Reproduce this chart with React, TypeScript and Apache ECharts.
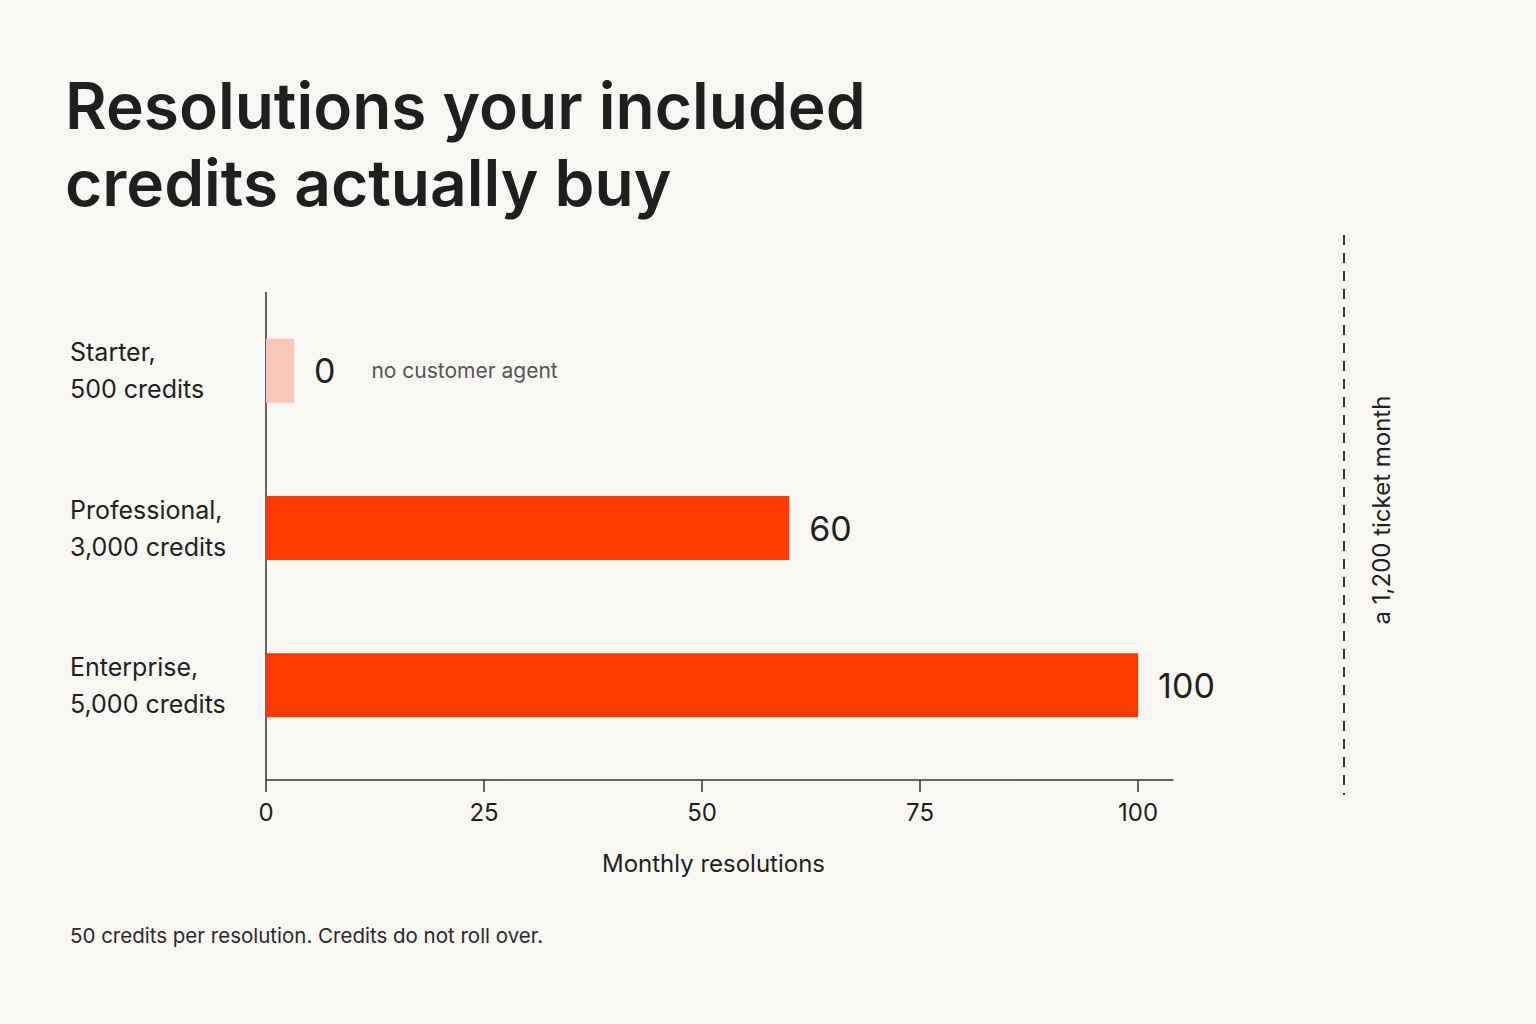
import React, { useEffect, useRef } from "react";
import * as echarts from "echarts";

// chart data
const categories = ["Starter,\n500 credits", "Professional,\n3,000 credits", "Enterprise,\n5,000 credits"];
const resolutions = [0, 60, 100];
const notes = ["no customer agent", "", ""];
const xTicks = [0, 25, 50, 75, 100];
const xMax = 104;

const titleText = "Resolutions your included\ncredits actually buy";
const axisName = "Monthly resolutions";
const refLabel = "a 1,200 ticket month";
const footnote = "50 credits per resolution. Credits do not roll over.";

const FONT = "Inter, 'Noto Sans', sans-serif";
const INK = "#1f1f1f";
const BAR = "#ff3a00";
const STUB = "#f9c6b9";

const App = () => {
  const chartRef = useRef<HTMLDivElement>(null);

  useEffect(() => {
    document.body.style.margin = "0";
    if (!chartRef.current) return;

    const chart = echarts.init(chartRef.current, null, { renderer: "svg" });

    const barData = resolutions.map((v, i) => ({
      value: v,
      itemStyle: { color: v === 0 ? STUB : BAR },
      label: {
        formatter: notes[i] ? `{v|${v}}{n|${notes[i]}}` : `{v|${v}}`,
      },
    }));

    chart.setOption({
      animation: false,
      backgroundColor: "#f8f7f4",
      textStyle: { fontFamily: FONT },
      title: {
        text: titleText,
        left: 60,
        top: 62,
        textStyle: {
          fontFamily: FONT,
          fontSize: 64,
          fontWeight: 600,
          lineHeight: 77,
          color: INK,
        },
      },
      grid: { left: 266, top: 292, width: 907, height: 472 },
      xAxis: {
        type: "value",
        min: 0,
        max: xMax,
        offset: 16,
        splitLine: { show: false },
        axisLine: { show: true, lineStyle: { color: "#333", width: 1.5 } },
        axisTick: {
          show: true,
          customValues: xTicks,
          length: 12,
          lineStyle: { color: "#333", width: 1.5 },
        },
        axisLabel: {
          customValues: xTicks,
          margin: 20,
          fontSize: 24,
          color: INK,
          fontFamily: FONT,
        },
        name: axisName,
        nameLocation: "middle",
        nameGap: 71,
        nameTextStyle: { fontSize: 24, color: INK, fontFamily: FONT, padding: [0, 12, 0, 0] },
      },
      yAxis: {
        type: "category",
        data: categories,
        inverse: true,
        axisLine: { show: false },
        axisTick: { show: false },
        axisLabel: {
          align: "left",
          margin: 196,
          fontSize: 25,
          lineHeight: 37,
          color: INK,
          fontFamily: FONT,
        },
      },
      series: [
        {
          type: "bar",
          data: barData,
          barWidth: 64,
          barMinHeight: 28,
          label: {
            show: true,
            position: "right",
            distance: 20,
            rich: {
              v: { fontSize: 34, color: INK, fontFamily: FONT },
              n: {
                fontSize: 21,
                color: "#555",
                fontFamily: FONT,
                padding: [0, 0, 0, 36],
              },
            },
          },
        },
      ],
      graphic: [
        {
          type: "line",
          shape: { x1: 266, y1: 292, x2: 266, y2: 780 },
          style: { stroke: "#333", lineWidth: 1.5 },
        },
        {
          type: "line",
          shape: { x1: 1344, y1: 235, x2: 1344, y2: 795 },
          style: { stroke: "#333", lineWidth: 2, lineDash: [10, 8] },
        },
        {
          type: "text",
          x: 1381,
          y: 510,
          rotation: Math.PI / 2,
          style: {
            text: refLabel,
            fontSize: 24,
            fontFamily: FONT,
            fill: INK,
            align: "center",
            verticalAlign: "middle",
          },
        },
        {
          type: "text",
          x: 70,
          y: 935,
          style: {
            text: footnote,
            fontSize: 20.5,
            fontFamily: FONT,
            fill: "#2a2a2a",
            align: "left",
            verticalAlign: "middle",
          },
        },
      ],
    });

    return () => {
      chart.dispose();
    };
  }, []);

  return <div ref={chartRef} style={{ width: 1536, height: 1024 }}></div>;
};

export default App;
